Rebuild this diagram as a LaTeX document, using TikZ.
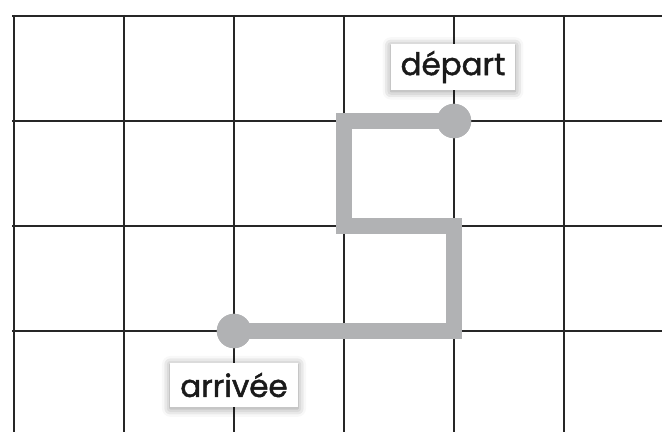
\documentclass[tikz,border=0pt]{standalone}
\usepackage{fontspec}
\setmainfont{Poppins}
\newfontfamily\tagfont{Poppins}[FakeBold=1.6]
\usepackage{xcolor}
\usepackage{tikz}
\usetikzlibrary{shadows.blur}
\definecolor{pathgray}{HTML}{B1B2B4}
\definecolor{inkblack}{HTML}{1A1A1A}

\begin{document}
\begin{tikzpicture}[
          x=0.025cm, y=-0.025cm,
          every node/.style={font=\tagfont\fontsize{22}{26}\selectfont},
          gridline/.style={line width=1.1pt,black!85},
          route/.style={line width=0.42cm,pathgray,line join=miter},
          dot/.style={circle,fill=pathgray,minimum size=0.86cm,inner sep=0pt},
          tag/.style={fill=white,text=inkblack,minimum width=3.1cm,minimum height=1.14cm,
                      inner sep=2pt,align=center,
                      blur shadow={shadow xshift=0pt,shadow yshift=-1pt,
                                   shadow blur radius=6pt,shadow opacity=45}}
      ]
        \useasboundingbox (0,0) rectangle (662,432);
        % grid
        \foreach \gx in {14,124,234,344,454,564}
          \draw[gridline] (\gx,15) -- (\gx,432);
        \foreach \gy in {16,121,226,331}
          \draw[gridline] (12,\gy) -- (662,\gy);

        \node[dot] (depart) at (454,121) {};
        \node[dot] (arrivee) at (234,331) {};
        \coordinate (c1) at (344,121);
        \coordinate (c2) at (344,226);
        \coordinate (c3) at (454,226);
        \coordinate (c4) at (454,331);

        \draw[route] (depart.center) -- (c1) -- (c2) -- (c3) -- (c4) -- (arrivee.center);
        \node[dot] at (depart) {};
        \node[dot] at (arrivee) {};

        \node[tag] (lbldepart) at (453,67) {départ};
        \node[tag,minimum width=3.18cm,minimum height=1.1cm] (lblarrivee) at (234,385) {arrivée};
      \end{tikzpicture}
\end{document}
